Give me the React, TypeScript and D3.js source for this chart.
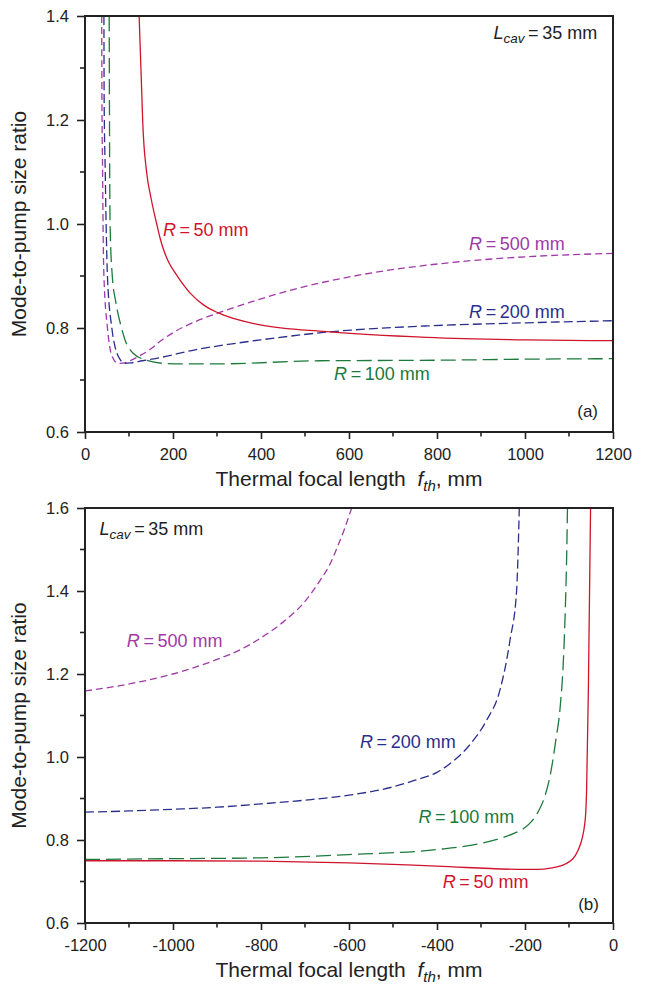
import React, { useEffect, useRef } from 'react';
import * as d3 from 'd3';

type Pt = [number, number];

// (a) positive thermal lens: [f_th mm, mode-to-pump size ratio]
const posR50: Pt[] = [[123, 1.4], [129.5, 1.24], [131, 1.2], [140, 1.1], [150, 1.05], [163, 1.0], [170, 0.975], [178, 0.952], [190, 0.927], [208, 0.902], [239, 0.867], [270, 0.844], [303, 0.829], [398, 0.806], [549, 0.793], [777, 0.782], [1004, 0.777], [1200, 0.7756]];
const posR100: Pt[] = [[55, 1.4], [55.5, 1.24], [57, 1.0], [62, 0.9], [70, 0.85], [83, 0.8], [91, 0.777], [110, 0.751], [140, 0.738], [178, 0.732], [220, 0.731], [300, 0.731], [534, 0.737], [800, 0.738], [1000, 0.74], [1200, 0.741]];
const posR200: Pt[] = [[43, 1.4], [43.5, 1.24], [46, 1.1], [48, 1.0], [51, 0.9], [61, 0.8], [68, 0.765], [78, 0.742], [91, 0.732], [105, 0.733], [130, 0.737], [170, 0.743], [250, 0.758], [330, 0.769], [398, 0.777], [549, 0.792], [777, 0.804], [1004, 0.81], [1200, 0.814]];
const posR500: Pt[] = [[38, 1.4], [38.5, 1.24], [40, 1.1], [41, 1.0], [43, 0.9], [51, 0.8], [57, 0.76], [65, 0.74], [75, 0.732], [90, 0.733], [102, 0.737], [125, 0.747], [150, 0.76], [170, 0.774], [200, 0.791], [250, 0.812], [303, 0.829], [400, 0.856], [473, 0.874], [625, 0.902], [852, 0.9275], [1004, 0.937], [1200, 0.9436]];

// (b) negative thermal lens
const negR50: Pt[] = [[-1200, 0.75], [-1000, 0.75], [-800, 0.749], [-600, 0.745], [-400, 0.737], [-200, 0.729], [-170, 0.729], [-143, 0.732], [-105, 0.744], [-79, 0.776], [-64, 0.84], [-60, 0.92], [-56, 1.161], [-51, 1.6]];
const negR100: Pt[] = [[-1200, 0.753], [-1000, 0.755], [-800, 0.757], [-600, 0.765], [-400, 0.777], [-300, 0.792], [-250, 0.806], [-225, 0.816], [-200, 0.83], [-185, 0.845], [-170, 0.868], [-155, 0.905], [-142, 0.96], [-130, 1.04], [-120, 1.121], [-112, 1.25], [-108, 1.37], [-105, 1.5], [-103.5, 1.6]];
const negR200: Pt[] = [[-1200, 0.867], [-1100, 0.87], [-1000, 0.874], [-900, 0.879], [-800, 0.887], [-700, 0.896], [-600, 0.908], [-500, 0.928], [-450, 0.944], [-400, 0.963], [-363, 0.99], [-325, 1.03], [-287, 1.089], [-257, 1.161], [-234, 1.282], [-219, 1.402], [-215.5, 1.5], [-213, 1.6]];
const negR500: Pt[] = [[-1200, 1.159], [-1100, 1.176], [-1000, 1.2], [-900, 1.235], [-850, 1.257], [-800, 1.287], [-750, 1.325], [-700, 1.375], [-666, 1.425], [-643, 1.465], [-625, 1.51], [-610, 1.55], [-594, 1.6]];

const xTicksA = [0, 200, 400, 600, 800, 1000, 1200];
const xTicksB = [-1200, -1000, -800, -600, -400, -200, 0];
const yTicksA = [0.6, 0.8, 1.0, 1.2, 1.4];
const yTicksB = [0.6, 0.8, 1.0, 1.2, 1.4, 1.6];

const RED = '#d0142c';
const GREEN = '#1c7a3c';
const BLUE = '#2b2f8c';
const PURPLE = '#a03aa6';
const INK = '#222';
const FONT = "'Liberation Sans', Arial, Helvetica, sans-serif";

const W = 646;
const H = 985;
const LEFT = 85;
const RIGHT = 613;

function drawPanel(svg: any, opts: any) {
  const { top, bottom, xDom, yDom, xTicks, yTicks, series, labels, lcav, tag, id } = opts;
  const x = d3.scaleLinear().domain(xDom).range([LEFT, RIGHT]);
  const y = d3.scaleLinear().domain(yDom).range([bottom, top]);
  const g = svg.append('g');

  g.append('clipPath').attr('id', id).append('rect')
    .attr('x', LEFT).attr('y', top).attr('width', RIGHT - LEFT).attr('height', bottom - top);

  // minor ticks
  const xMinor = d3.range(xDom[0], xDom[1] + 1, 100).filter(v => !xTicks.includes(v));
  const yMinor = d3.range(Math.round(yDom[0] * 10), Math.round(yDom[1] * 10) + 1)
    .map(v => v / 10).filter(v => !yTicks.some((t: number) => Math.abs(t - v) < 1e-6));
  g.selectAll('line.xm').data(xMinor).join('line')
    .attr('x1', (d: number) => x(d)).attr('x2', (d: number) => x(d))
    .attr('y1', bottom).attr('y2', bottom + 4.5)
    .attr('stroke', INK).attr('stroke-width', 1.6);
  g.selectAll('line.ym').data(yMinor).join('line')
    .attr('x1', LEFT - 5).attr('x2', LEFT)
    .attr('y1', (d: number) => y(d)).attr('y2', (d: number) => y(d))
    .attr('stroke', INK).attr('stroke-width', 1.6);

  const xAxis = g.append('g').attr('transform', `translate(0,${bottom})`)
    .call(d3.axisBottom(x).tickValues(xTicks).tickSize(7).tickPadding(9).tickSizeOuter(0).tickFormat((d: any) => String(d)));
  const yAxis = g.append('g').attr('transform', `translate(${LEFT},0)`)
    .call(d3.axisLeft(y).tickValues(yTicks).tickSize(8).tickPadding(8).tickSizeOuter(0).tickFormat(d3.format('.1f')));
  [xAxis, yAxis].forEach(a => {
    a.select('.domain').remove();
    a.selectAll('line').attr('stroke', INK).attr('stroke-width', 1.6);
    a.selectAll('text').attr('fill', INK).style('font-size', '16.5px').style('font-family', FONT);
  });

  // curves
  const line = d3.line<Pt>().x(d => x(d[0])).y(d => y(d[1])).curve(d3.curveMonotoneX);
  const lines = g.append('g').attr('clip-path', `url(#${id})`);
  series.forEach((s: any) => {
    lines.append('path').attr('d', line(s.data))
      .attr('fill', 'none').attr('stroke', s.color).attr('stroke-width', 1.3)
      .attr('stroke-dasharray', s.dash || null);
  });

  // frame
  g.append('rect').attr('x', LEFT).attr('y', top).attr('width', RIGHT - LEFT).attr('height', bottom - top)
    .attr('fill', 'none').attr('stroke', INK).attr('stroke-width', 2);

  // curve labels
  labels.forEach((l: any) => {
    const t = g.append('text').attr('x', x(l.f)).attr('y', y(l.v))
      .attr('fill', l.color).style('font-size', '18px').style('font-family', FONT);
    t.append('tspan').attr('font-style', 'italic').text('R');
    t.append('tspan').text(`\u2009=\u2009${l.r} mm`);
  });

  // L_cav note
  const lt = g.append('text').attr('x', x(lcav.f)).attr('y', y(lcav.v))
    .attr('text-anchor', lcav.anchor).attr('fill', INK)
    .style('font-size', '18px').style('font-family', FONT);
  lt.append('tspan').attr('font-style', 'italic').text('L');
  lt.append('tspan').attr('font-style', 'italic').attr('font-size', '13.5px').attr('dy', 4).text('cav');
  lt.append('tspan').attr('dy', -4).text('\u2009=\u200935 mm');

  g.append('text').attr('x', x(tag.f)).attr('y', y(tag.v)).attr('text-anchor', 'end')
    .attr('fill', INK).style('font-size', '17px').style('font-family', FONT).text(tag.text);

  // axis titles
  const xt = g.append('text').attr('x', (LEFT + RIGHT) / 2).attr('y', bottom + 54)
    .attr('text-anchor', 'middle').attr('fill', INK)
    .style('font-size', '21px').style('font-family', FONT);
  xt.append('tspan').text('Thermal focal length\u00a0 ');
  xt.append('tspan').attr('font-style', 'italic').text('f');
  xt.append('tspan').attr('font-style', 'italic').attr('font-size', '15px').attr('dy', 5).text('th');
  xt.append('tspan').attr('dy', -5).text(', mm');

  g.append('text').attr('transform', `translate(26,${(top + bottom) / 2}) rotate(-90)`)
    .attr('text-anchor', 'middle').attr('fill', INK)
    .style('font-size', '21px').style('font-family', FONT)
    .text('Mode-to-pump size ratio');
}

export default function App() {
  const svgRef = useRef<SVGSVGElement>(null);

  useEffect(() => {
    const svg = d3.select(svgRef.current);
    svg.selectAll('*').remove();

    drawPanel(svg, {
      id: 'clipA', top: 16, bottom: 432, xDom: [0, 1200], yDom: [0.6, 1.4],
      xTicks: xTicksA, yTicks: yTicksA,
      series: [
        { data: posR500, color: PURPLE, dash: '7,4' },
        { data: posR200, color: BLUE, dash: '9,4' },
        { data: posR100, color: GREEN, dash: '15,6' },
        { data: posR50, color: RED },
      ],
      labels: [
        { r: 50, f: 177, v: 0.977, color: RED },
        { r: 500, f: 873, v: 0.95, color: PURPLE },
        { r: 200, f: 873, v: 0.82, color: BLUE },
        { r: 100, f: 566, v: 0.70, color: GREEN },
      ],
      lcav: { f: 1164, v: 1.356, anchor: 'end' },
      tag: { f: 1166, v: 0.629, text: '(a)' },
    });

    drawPanel(svg, {
      id: 'clipB', top: 508, bottom: 923, xDom: [-1200, 0], yDom: [0.6, 1.6],
      xTicks: xTicksB, yTicks: yTicksB,
      series: [
        { data: negR500, color: PURPLE, dash: '7,4' },
        { data: negR200, color: BLUE, dash: '9,4' },
        { data: negR100, color: GREEN, dash: '15,6' },
        { data: negR50, color: RED },
      ],
      labels: [
        { r: 500, f: -1105, v: 1.264, color: PURPLE },
        { r: 200, f: -575, v: 1.022, color: BLUE },
        { r: 100, f: -442, v: 0.84, color: GREEN },
        { r: 50, f: -387, v: 0.684, color: RED },
      ],
      lcav: { f: -1167, v: 1.535, anchor: 'start' },
      tag: { f: -32, v: 0.631, text: '(b)' },
    });
  }, []);

  return (
    <svg ref={svgRef} width={W} height={H}
      style={{ position: 'absolute', left: 0, top: 0, background: '#fff' }} />
  );
}
